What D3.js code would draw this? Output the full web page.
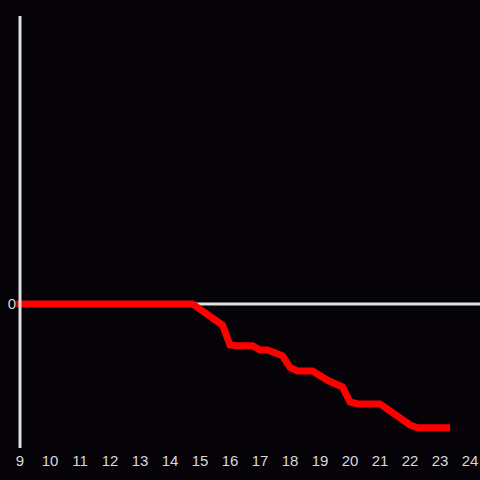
<!DOCTYPE html>
<html>
<head>
<meta charset="utf-8">
<script src="https://cdn.jsdelivr.net/npm/d3@7"></script>
<style>
  html, body { margin: 0; padding: 0; background: #050307; }
  svg { display: block; }
</style>
</head>
<body>
<svg id="chart"></svg>
<script>
"use strict";

// hour of day and value
let hours = [9, 14.75, 15.75, 16, 16.25, 16.75, 17, 17.25, 17.75, 18, 18.25, 18.75, 19.25, 19.75, 20, 20.25, 21, 22, 22.25, 23.22];
let values = [0, 0, -0.146, -0.285, -0.29, -0.29, -0.32, -0.32, -0.36, -0.44, -0.465, -0.465, -0.53, -0.576, -0.68, -0.694, -0.694, -0.84, -0.86, -0.86];
let xTicks = [9, 10, 11, 12, 13, 14, 15, 16, 17, 18, 19, 20, 21, 22, 23, 24];
let yTicks = [0];

let width = 480, height = 480;
let svg = d3.select('svg#chart')
  .attr('width', width)
  .attr('height', height);

let x = d3.scaleLinear().domain([9, 24]).range([20, 470]);
let y = d3.scaleLinear().domain([-1, 2]).range([448, 16]);

/* zero line */
svg.append('line')
   .attr('x1', x(9))
   .attr('x2', width)
   .attr('y1', y(0))
   .attr('y2', y(0))
   .attr('stroke', '#e0e0e0')
   .attr('stroke-width', 3);

/* the series */
let line = d3.line()
  .x((d, i) => x(hours[i]))
  .y(d => y(d));

svg.append('path')
   .datum(values)
   .attr('d', line)
   .attr('fill', 'none')
   .attr('stroke', '#ff0000')
   .attr('stroke-width', 7)
   .attr('stroke-linecap', 'square')
   .attr('stroke-linejoin', 'miter');

/* y axis line */
svg.append('line')
   .attr('x1', x(9))
   .attr('x2', x(9))
   .attr('y1', y(2))
   .attr('y2', y(-1))
   .attr('stroke', '#e0e0e0')
   .attr('stroke-width', 3);

/* tick labels */
svg.selectAll('text.xtick')
   .data(xTicks)
   .enter()
   .append('text')
   .attr('class', 'xtick')
   .attr('x', d => x(d))
   .attr('y', 466)
   .attr('text-anchor', 'middle')
   .attr('fill', '#d8d8d8')
   .style('font-family', 'Liberation Sans, Arial, sans-serif')
   .style('font-size', '15px')
   .text(d => d);

svg.selectAll('text.ytick')
   .data(yTicks)
   .enter()
   .append('text')
   .attr('class', 'ytick')
   .attr('x', 16)
   .attr('y', d => y(d))
   .attr('dy', '0.35em')
   .attr('text-anchor', 'end')
   .attr('fill', '#d8d8d8')
   .style('font-family', 'Liberation Sans, Arial, sans-serif')
   .style('font-size', '15px')
   .text(d => d);
</script>
</body>
</html>
